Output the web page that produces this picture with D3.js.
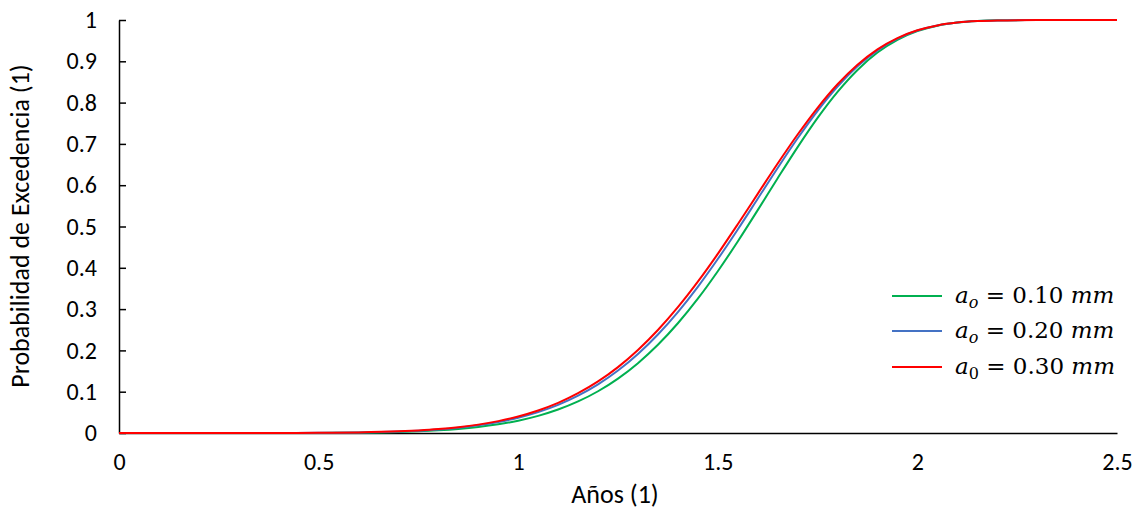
<!DOCTYPE html>
<html><head><meta charset="utf-8">
<script src="https://cdn.jsdelivr.net/npm/d3@7"></script>
<style>
body{margin:0;background:#fff;}
svg{display:block;}
.tick text{font-family:Calibri,Carlito,Lato,"Liberation Sans",sans-serif;font-size:24px;fill:#000;}
</style></head>
<body><svg id="c" width="1141" height="510"></svg>
<script>
const xValues = [0, 0.1, 0.2, 0.3, 0.4, 0.5, 0.6, 0.7, 0.75, 0.8, 0.85, 0.9, 0.95, 1.0, 1.05, 1.1, 1.15, 1.2, 1.25, 1.3, 1.35, 1.4, 1.45, 1.5, 1.55, 1.6, 1.65, 1.7, 1.75, 1.8, 1.85, 1.9, 1.95, 2.0, 2.05, 2.1, 2.15, 2.2, 2.3, 2.4, 2.5];
const seriesA010 = [0, 0, 0, 0, 0, 0.0003, 0.0009, 0.0026, 0.0042, 0.0065, 0.0098, 0.0145, 0.0210, 0.0298, 0.0415, 0.0568, 0.0764, 0.1011, 0.1317, 0.1691, 0.2136, 0.2657, 0.3252, 0.3917, 0.4638, 0.5397, 0.6169, 0.6923, 0.7630, 0.8260, 0.8791, 0.9212, 0.9520, 0.9731, 0.9863, 0.9937, 0.9974, 0.9991, 0.9999, 1, 1];
const seriesA020 = [0, 0, 0, 0, 0, 0.0004, 0.0013, 0.0036, 0.0057, 0.0086, 0.0128, 0.0186, 0.0265, 0.0369, 0.0506, 0.0681, 0.0903, 0.1177, 0.1512, 0.1914, 0.2386, 0.2929, 0.3540, 0.4212, 0.4929, 0.5672, 0.6418, 0.7136, 0.7802, 0.8389, 0.8879, 0.9266, 0.9549, 0.9744, 0.9867, 0.9937, 0.9973, 0.9990, 0.9999, 1, 1];
const seriesA030 = [0, 0, 0, 0, 0.0001, 0.0005, 0.0015, 0.0040, 0.0063, 0.0095, 0.0141, 0.0203, 0.0288, 0.0400, 0.0545, 0.0729, 0.0963, 0.1248, 0.1595, 0.2010, 0.2493, 0.3046, 0.3664, 0.4338, 0.5054, 0.5790, 0.6524, 0.7227, 0.7875, 0.8444, 0.8917, 0.9290, 0.9562, 0.9750, 0.9869, 0.9937, 0.9973, 0.9989, 0.9999, 1, 1];
const xTicks = [0, 0.5, 1, 1.5, 2, 2.5];
const yTicks = [0, 0.1, 0.2, 0.3, 0.4, 0.5, 0.6, 0.7, 0.8, 0.9, 1];
const legendSub = ["o", "o", "0"];
const legendVal = ["0.10", "0.20", "0.30"];
const colors = ["#00B050", "#4472C4", "#FF0000"];

const svg = d3.select("#c");
const x = d3.scaleLinear().domain([0, 2.5]).range([119, 1117]);
const y = d3.scaleLinear().domain([0, 1]).range([433, 20]);

const yAxis = d3.axisLeft(y).tickValues(yTicks).tickSizeInner(-7).tickSizeOuter(0).tickPadding(22).tickFormat(d3.format("~g"));
const xAxis = d3.axisBottom(x).tickValues(xTicks).tickSizeInner(0).tickSizeOuter(0).tickPadding(20).tickFormat(d3.format("~g"));

const gy = svg.append("g").attr("transform", "translate(119,0)").call(yAxis);
const gx = svg.append("g").attr("transform", "translate(0,433)").call(xAxis);
[gx, gy].forEach(g => {
  g.select(".domain").attr("stroke", "#000").attr("stroke-width", 1.5);
  g.selectAll(".tick line").attr("stroke", "#000").attr("stroke-width", 1.5);
});

const line = d3.line().x(d => x(d[0])).y(d => y(d[1])).curve(d3.curveMonotoneX);
[seriesA010, seriesA020, seriesA030].forEach((s, i) => {
  svg.append("path").datum(xValues.map((xv, j) => [xv, s[j]]))
    .attr("d", line).attr("fill", "none").attr("stroke", colors[i]).attr("stroke-width", 2);
});

svg.append("text").attr("transform", "translate(29,226) rotate(-90)")
  .attr("text-anchor", "middle").attr("font-family", "Calibri,Carlito,Lato,'Liberation Sans',sans-serif")
  .attr("font-size", 26).text("Probabilidad de Excedencia (1)");
svg.append("text").attr("x", 615).attr("y", 503)
  .attr("text-anchor", "middle").attr("font-family", "Calibri,Carlito,Lato,'Liberation Sans',sans-serif")
  .attr("font-size", 26).text("Años (1)");

const legY = [296, 331, 367];
legY.forEach((ly, i) => {
  svg.append("line").attr("x1", 892).attr("x2", 942).attr("y1", ly).attr("y2", ly)
    .attr("stroke", colors[i]).attr("stroke-width", 2);
  const t = svg.append("text").attr("x", 955).attr("y", ly + 7)
    .attr("font-family", "'DejaVu Serif','Liberation Serif',serif").attr("font-size", 23);
  t.append("tspan").attr("font-style", "italic").text("a");
  t.append("tspan").attr("font-style", legendSub[i] === "0" ? "normal" : "italic").attr("font-size", 16).attr("dy", 5).text(legendSub[i]);
  t.append("tspan").attr("dy", -5).text(" = " + legendVal[i] + " ");
  t.append("tspan").attr("font-style", "italic").text("mm");
});
</script></body></html>
